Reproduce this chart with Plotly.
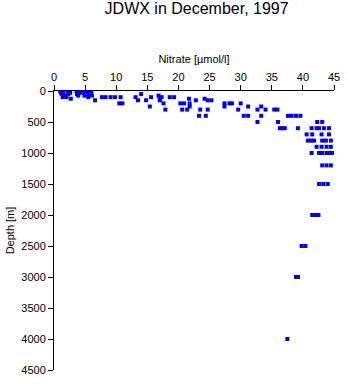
import plotly.graph_objects as go

nitrate = [
    1.0, 1.2, 1.5, 1.1, 1.3, 1.8, 2.2, 2.5, 1.4, 2.0, 2.7, 2.3, 2.6, 1.7,
    3.6, 3.8, 4.1, 3.7, 4.3, 3.9,
    4.8, 5.0, 5.3, 5.6, 5.9, 6.0, 5.2, 5.7, 4.9, 6.1, 5.5,
    6.6, 7.7, 8.3, 9.1, 9.8, 10.7, 10.5, 11.0, 13.1, 13.5, 14.0, 14.8, 15.6, 15.4,
    16.8, 17.0, 17.3, 17.0, 17.6, 17.9, 18.6, 19.3, 20.3, 20.9, 21.7, 21.8, 21.8,
    20.6, 21.4, 22.8, 23.5, 24.2, 24.7, 24.7, 23.3, 24.4, 25.3, 27.4, 27.4, 28.2,
    28.6, 30.0, 29.6, 31.2, 30.5, 31.2, 32.7, 33.3, 34.0, 33.3, 32.7, 35.4, 35.9,
    36.0, 36.3, 36.7, 37.1, 37.6, 38.2, 38.9, 39.6, 42.3, 43.1,
    39.2, 41.4, 42.2, 42.6, 43.4, 44.2,
    40.6, 41.5, 43.0, 44.2,
    40.8, 41.3, 41.8, 43.1, 43.7, 44.5,
    42.2, 43.0, 43.8, 44.5,
    41.4, 42.6, 43.1, 43.8, 44.3, 44.7,
    43.1, 43.8, 44.5,
    42.6, 43.3, 44.0,
    41.5, 42.0, 42.5,
    39.8, 40.4,
    38.9, 39.2,
    37.5,
]
depth = [
    0, 10, 20, 30, 50, 75, 0, 10, 100, 100, 125, 50, 30, 75,
    0, 20, 10, 50, 30, 75,
    0, 20, 10, 0, 30, 10, 50, 50, 75, 75, 100,
    150, 100, 100, 100, 100, 100, 200, 200, 100, 150, 50, 150, 100, 250,
    75, 125, 100, 150, 200, 300, 100, 100, 200, 200, 125, 200, 250,
    300, 300, 150, 300, 125, 150, 300, 400, 400, 150, 200, 250, 200,
    200, 200, 300, 250, 400, 400, 300, 250, 300, 400, 500, 300, 300,
    500, 600, 600, 600, 400, 400, 400, 400, 500, 500,
    600, 600, 600, 600, 600, 600,
    700, 700, 700, 700,
    800, 800, 800, 800, 800, 800,
    900, 900, 900, 900,
    1000, 1000, 1000, 1000, 1000, 1000,
    1200, 1200, 1200,
    1500, 1500, 1500,
    2000, 2000, 2000,
    2500, 2500,
    3000, 3000,
    4000,
]

x_ticks = [0, 5, 10, 15, 20, 25, 30, 35, 40, 45]
y_ticks = [0, 500, 1000, 1500, 2000, 2500, 3000, 3500, 4000, 4500]

font_family = "Liberation Sans, Arial, sans-serif"

fig = go.Figure(
    go.Scatter(
        x=nitrate,
        y=depth,
        mode="markers",
        marker=dict(symbol="square", size=4, color="#0000ff", line=dict(width=0)),
        hoverinfo="skip",
    )
)

fig.update_layout(
    width=348,
    height=384,
    margin=dict(l=54, r=9, t=91, b=8),
    paper_bgcolor="white",
    plot_bgcolor="white",
    showlegend=False,
    font=dict(family=font_family, size=11, color="black"),
    title=dict(
        text="JDWX in December, 1997",
        x=0.565,
        xanchor="center",
        y=0.993,
        yanchor="top",
        font=dict(size=16, color="black", family=font_family),
    ),
)

fig.update_xaxes(
    side="top",
    range=[0, 45],
    tickvals=x_ticks,
    ticktext=[str(v) for v in x_ticks],
    showline=True,
    linecolor="black",
    linewidth=1,
    ticks="outside",
    ticklen=5,
    tickcolor="black",
    showgrid=False,
    zeroline=False,
    title=dict(text="Nitrate [µmol/l]", standoff=4, font=dict(size=11)),
    tickfont=dict(size=11),
)

fig.update_yaxes(
    range=[4500, 0],
    tickvals=y_ticks,
    ticktext=[str(v) for v in y_ticks],
    showline=True,
    linecolor="black",
    linewidth=1,
    ticks="outside",
    ticklen=5,
    tickcolor="black",
    showgrid=False,
    zeroline=False,
    title=dict(text="Depth [m]", standoff=4, font=dict(size=11)),
    tickfont=dict(size=11),
)

fig.write_html("out.html")
